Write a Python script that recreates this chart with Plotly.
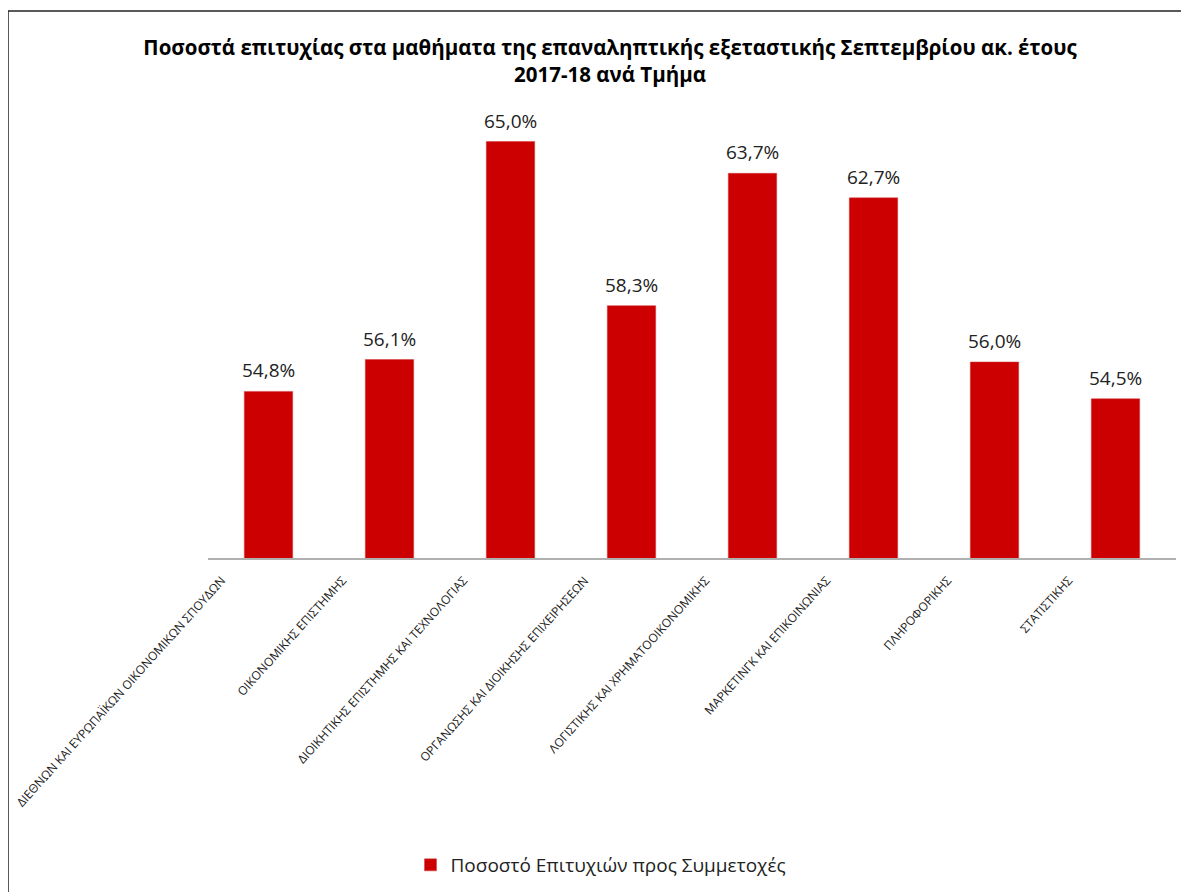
import plotly.graph_objects as go

categories = [
    "ΔΙΕΘΝΩΝ ΚΑΙ ΕΥΡΩΠΑΪΚΩΝ ΟΙΚΟΝΟΜΙΚΩΝ ΣΠΟΥΔΩΝ",
    "ΟΙΚΟΝΟΜΙΚΗΣ ΕΠΙΣΤΗΜΗΣ",
    "ΔΙΟΙΚΗΤΙΚΗΣ ΕΠΙΣΤΗΜΗΣ ΚΑΙ ΤΕΧΝΟΛΟΓΙΑΣ",
    "ΟΡΓΑΝΩΣΗΣ ΚΑΙ ΔΙΟΙΚΗΣΗΣ ΕΠΙΧΕΙΡΗΣΕΩΝ",
    "ΛΟΓΙΣΤΙΚΗΣ ΚΑΙ ΧΡΗΜΑΤΟΟΙΚΟΝΟΜΙΚΗΣ",
    "ΜΑΡΚΕΤΙΝΓΚ ΚΑΙ ΕΠΙΚΟΙΝΩΝΙΑΣ",
    "ΠΛΗΡΟΦΟΡΙΚΗΣ",
    "ΣΤΑΤΙΣΤΙΚΗΣ",
]
success_rate = [54.8, 56.1, 65.0, 58.3, 63.7, 62.7, 56.0, 54.5]
series_name = "Ποσοστό Επιτυχιών προς Συμμετοχές"
title_text = "Ποσοστά επιτυχίας στα μαθήματα της επαναληπτικής εξεταστικής Σεπτεμβρίου ακ. έτους<br>2017-18 ανά Τμήμα"

FONT = "Open Sans"
RED = "#CC0000"

# page offset (browser body margin)
OFF = 8
W, H = 1189 - OFF, 892 - OFF

fig = go.Figure()
fig.add_trace(go.Bar(
    x=categories,
    y=success_rate,
    name=series_name,
    marker=dict(color=RED, line=dict(color="#D43A3A", width=0.5)),
    showlegend=True,
))

annotations = []
for c, v in zip(categories, success_rate):
    annotations.append(dict(
        x=c, y=v, xref="x", yref="y",
        text=f"{v:.1f}%".replace(".", ","),
        showarrow=False, yanchor="bottom", yshift=6,
        font=dict(family=FONT, size=19, color="#222222"),
    ))

plot_left, plot_right, plot_top, plot_bottom = 208 - OFF, 1176 - OFF, 100 - OFF, 558 - OFF
pw = plot_right - plot_left
ph = plot_bottom - plot_top
def px_x(p):
    return (p - OFF - plot_left) / pw
def px_y(p):
    return (plot_bottom - (p - OFF)) / ph

shapes = [
    dict(type="line", xref="paper", yref="paper",
         x0=px_x(8), x1=px_x(1200), y0=px_y(11), y1=px_y(11),
         line=dict(color="#222222", width=1.5)),
    dict(type="line", xref="paper", yref="paper",
         x0=px_x(8), x1=px_x(8), y0=px_y(11), y1=px_y(900),
         line=dict(color="#222222", width=1.5)),
]

fig.update_layout(
    width=W, height=H,
    paper_bgcolor="white", plot_bgcolor="white",
    margin=dict(l=plot_left, r=W - plot_right, t=plot_top, b=H - plot_bottom, autoexpand=False),
    title=dict(text=title_text, x=(610 - OFF) / W, xanchor="center", y=1 - (55 - OFF) / H, yanchor="middle",
               font=dict(family=FONT, size=20.5, color="black", weight="bold")),
    font=dict(family=FONT, color="#222222"),
    bargap=0.6,
    showlegend=True,
    legend=dict(orientation="h", x=(601 - OFF) / W, xanchor="center", xref="container",
                y=1 - (865 - OFF) / H, yanchor="middle", yref="container",
                font=dict(family=FONT, size=19, color="#222222"),
                itemwidth=30),
    annotations=annotations,
    shapes=shapes,
)
fig.update_xaxes(
    showline=True, linecolor="#B0B0B0", linewidth=1.5,
    ticks="", tickangle=-48, ticklabelshift=-47, ticklabelstandoff=9,
    tickfont=dict(family=FONT, size=12, color="#222222"),
    showgrid=False,
)
fig.update_yaxes(
    range=[48.0, 48.0 + ph / 24.5], visible=False, showgrid=False, zeroline=False,
)

fig.write_html("out.html")
